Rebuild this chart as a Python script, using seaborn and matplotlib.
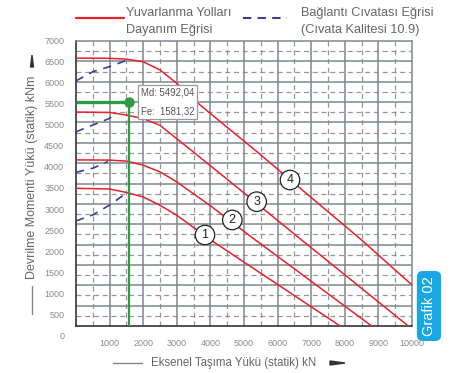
import numpy as np
import matplotlib.pyplot as plt
import seaborn as sns
from matplotlib.lines import Line2D
from matplotlib.patches import Polygon

# values (x: axial load kN, y: tilting moment kNm)
# red: raceway capacity curves 1..4
c1_x = [0, 1000, 1500, 2000, 2500, 3000, 3500, 4087, 7860]
c1_y = [3382, 3365, 3280, 3170, 2965, 2720, 2420, 2070, 0]
c2_x = [0, 1000, 1500, 2000, 2500, 3000, 3500, 4000, 5278, 8800]
c2_y = [4080, 4075, 4050, 3950, 3785, 3540, 3245, 2955, 2150, 0]
c3_x = [0, 1000, 1500, 2000, 2500, 3000, 3500, 4464, 6716, 9890]
c3_y = [5255, 5245, 5180, 5095, 4930, 4600, 4270, 3627, 2112, 0]
c4_x = [0, 1000, 1500, 2000, 2500, 3000, 3500, 4500, 5300, 8500, 10000]
c4_y = [6580, 6575, 6555, 6490, 6290, 5960, 5560, 4880, 4340, 2112, 1007]

# blue dashed: bolt curves
b1_x = [0, 500, 1000, 1500]
b1_y = [2580, 2730, 2970, 3265]
b2_x = [0, 500, 950]
b2_y = [3775, 3875, 4040]
b3_x = [0, 500, 1000, 1150]
b3_y = [4770, 4935, 5100, 5230]
b4_x = [0, 500, 1000, 1540]
b4_y = [6020, 6245, 6370, 6535]

# circled curve numbers
num_labels = ["1", "2", "3", "4"]
num_x = [3839, 4652, 5377, 6369]
num_y = [2235, 2604, 3053, 3586]

# selected point
md = 5492.04
fe = 1581.32

xticks = [1000, 2000, 3000, 4000, 5000, 6000, 7000, 8000, 9000, 10000]
yticks = [0, 500, 1000, 1500, 2000, 2500, 3000, 3500, 4000, 4500, 5000, 5500, 6000, 6500, 7000]

sns.set_style("white")
plt.rcParams['font.family'] = ['Liberation Sans', 'DejaVu Sans']

RED = "#e8202a"
BLUE = "#3b3d96"
GREEN = "#2e9c42"
GRID = "#7f878d"
TXT = "#666666"

fig = plt.figure(figsize=(4.52, 3.73), dpi=100)
W, H = 452, 373
ax = fig.add_axes([76 / W, 1 - 326 / H, 336 / W, 285 / H])

ax.set_xlim(0, 10000)
ax.set_ylim(0, 7000)

# grid: solid at major, dashed halfway
for gx in range(1000, 10000, 1000):
    ax.axvline(gx, color=GRID, lw=1.1, zorder=1)
for gx in range(500, 10000, 1000):
    ax.axvline(gx, color=GRID, lw=0.9, ls=(0, (4, 3)), alpha=0.85, zorder=1)
for gy in range(500, 7000, 500):
    ax.axhline(gy, color=GRID, lw=1.1, zorder=1)
for gy in range(250, 7000, 500):
    ax.axhline(gy, color=GRID, lw=0.9, ls=(0, (4, 3)), alpha=0.85, zorder=1)

for xs, ys in [(c1_x, c1_y), (c2_x, c2_y), (c3_x, c3_y), (c4_x, c4_y)]:
    sns.lineplot(x=xs, y=ys, ax=ax, color=RED, lw=1.1, sort=False, zorder=3)
for xs, ys in [(b1_x, b1_y), (b2_x, b2_y), (b3_x, b3_y), (b4_x, b4_y)]:
    sns.lineplot(x=xs, y=ys, ax=ax, color=BLUE, lw=1.2, sort=False,
                 linestyle=(0, (5, 4)), zorder=3)

# green marker lines
ax.plot([0, fe], [md, md], color=GREEN, lw=2.4, zorder=4, solid_capstyle='butt')
ax.plot([fe, fe], [0, md], color=GREEN, lw=1.6, zorder=4, solid_capstyle='butt')
ax.plot([fe], [md], 'o', color=GREEN, ms=6.5, zorder=5)
ax.text(fe + 340, md + 10, "Md: 5492,04\n\nFe:  1581,32", fontsize=6.9,
        color="#555555", va='center', ha='left', linespacing=0.95, zorder=6,
        bbox=dict(boxstyle='square,pad=0.3', fc='white', ec='#9a9a9a', lw=0.9))

for lab, nx, ny in zip(num_labels, num_x, num_y):
    ax.text(nx, ny, lab, ha='center', va='center', fontsize=9, color='#222222', zorder=6,
            bbox=dict(boxstyle='circle,pad=0.3', fc='white', ec='#222222', lw=0.9))

# spines
for s in ['top', 'right']:
    ax.spines[s].set_color(GRID)
    ax.spines[s].set_linewidth(1.1)
for s in ['left', 'bottom']:
    ax.spines[s].set_color('#333333')
    ax.spines[s].set_linewidth(1.2)

ax.set_xticks(xticks)
ax.set_xticklabels([str(v) for v in xticks], fontsize=6.5, color="#8a8a8a")
ax.tick_params(axis='x', direction='out', length=3, width=1, color='#333333', pad=6)
ax.set_yticks(yticks[1:])
ax.set_yticklabels([])
ax.tick_params(axis='y', direction='out', length=4, width=1, color='#333333')

# y labels drift slightly below the grid lines in the original
ytr = ax.get_yaxis_transform()
for v in yticks:
    ax.text(-0.035, 7000 - (7000 - v) * 1.038, str(v), transform=ytr, ha='right',
            va='center', fontsize=6.5, color="#8a8a8a", clip_on=False)

# axis titles with decorative line and arrow
fig.text(151 / W, 1 - 363 / H, "Eksenel Taşıma Yükü (statik) kN", fontsize=8.3,
         color=TXT, ha='left', va='center')
fig.add_artist(Line2D([113 / W, 142 / W], [1 - 363 / H, 1 - 363 / H], color='#888888', lw=1))
fig.add_artist(Polygon([[330 / W, 1 - 361 / H], [330 / W, 1 - 365 / H], [345 / W, 1 - 363 / H]],
                       closed=True, color='#333333', transform=fig.transFigure))

fig.text(32 / W, 1 - 279 / H, "Devrilme Momenti Yükü (statik) kNm", fontsize=9,
         color=TXT, ha='center', va='bottom', rotation=90)
fig.add_artist(Line2D([32 / W, 32 / W], [1 - 314 / H, 1 - 286 / H], color='#888888', lw=1))
fig.add_artist(Polygon([[30.5 / W, 1 - 67 / H], [33.5 / W, 1 - 67 / H], [32 / W, 1 - 55 / H]],
                       closed=True, color='#333333', transform=fig.transFigure))

# legend at the top
fig.add_artist(Line2D([76 / W, 124 / W], [1 - 18 / H, 1 - 18 / H], color=RED, lw=1.6))
fig.text(126 / W, 1 - 21.5 / H, "Yuvarlanma Yolları\nDayanım Eğrisi", fontsize=9.2,
         color=TXT, ha='left', va='center', linespacing=1.55)
fig.add_artist(Line2D([243 / W, 287 / W], [1 - 18 / H, 1 - 18 / H], color=BLUE, lw=1.5,
                      ls=(0, (4, 3))))
fig.text(301 / W, 1 - 21.5 / H, "Bağlantı Cıvatası Eğrisi\n(Cıvata Kalitesi 10.9)", fontsize=9.2,
         color=TXT, ha='left', va='center', linespacing=1.55)

# badge
fig.text(429 / W, 1 - 306 / H, "Grafik 02", fontsize=10.5, color='white', rotation=90,
         ha='center', va='center',
         bbox=dict(boxstyle='round,pad=0.35,rounding_size=0.4', fc='#17a8e3', ec='none'))

fig.savefig("out.png", dpi=100)
